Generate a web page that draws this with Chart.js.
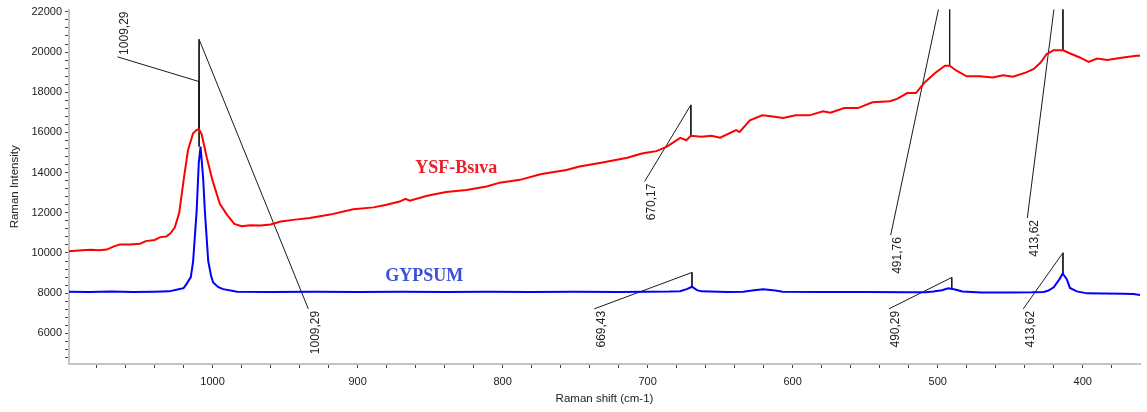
<!DOCTYPE html>
<html>
<head>
<meta charset="utf-8">
<script src="https://cdn.jsdelivr.net/npm/chart.js@4.4.1/dist/chart.umd.min.js"></script>
<style>
  html, body { margin: 0; padding: 0; background: #fff; }
  #wrap { width: 1147px; height: 412px; }
</style>
</head>
<body>
<div id="wrap"><canvas id="ramanChart" width="1147" height="412"></canvas></div>
<script>
// YSF-Bsıva spectrum (Raman shift, intensity)
const ysfShift = [1099, 1090, 1084, 1078, 1073, 1068, 1064, 1057, 1050, 1046, 1040, 1036, 1032, 1029, 1026, 1023,
  1020, 1017, 1013.5, 1011, 1009.3, 1007.5, 1004, 1000, 995, 990, 985, 980, 974, 967, 960, 953, 943, 933, 919,
  903, 889, 880, 871, 867, 864, 852, 839, 825, 811, 802, 788, 774, 770, 756, 747, 733, 714, 704, 700, 694, 687,
  677.5, 673.3, 670.2, 663, 656, 650, 639, 636.6, 629.5, 621, 615, 606.6, 598, 588.5, 579, 574, 564.5, 555, 545,
  533, 528, 521, 515, 509, 502, 495, 491.8, 487, 480, 471, 462, 455, 448, 439, 434, 429, 425, 420, 413.6, 409,
  402, 396, 390, 383, 376.5, 372, 363, 360.5];
const ysfIntensity = [10090, 10140, 10160, 10140, 10170, 10330, 10420, 10420, 10460, 10590, 10650, 10790, 10820,
  10980, 11280, 12000, 13600, 15100, 15950, 16130, 16150, 15900, 14750, 13600, 12450, 11900, 11450, 11330, 11380,
  11370, 11420, 11570, 11660, 11740, 11910, 12180, 12270, 12400, 12560, 12700, 12600, 12850, 13030, 13140, 13310,
  13500, 13640, 13920, 13970, 14130, 14300, 14480, 14740, 14950, 15000, 15070, 15280, 15730, 15610, 15830, 15780,
  15830, 15740, 16110, 16020, 16600, 16850, 16810, 16720, 16850, 16850, 17050, 16980, 17210, 17210, 17500, 17550,
  17670, 17960, 17960, 18490, 18950, 19320, 19320, 19070, 18790, 18790, 18740, 18850, 18770, 18990, 19150, 19480,
  19890, 20090, 20090, 19940, 19730, 19510, 19680, 19610, 19680, 19730, 19810, 19810];

// GYPSUM spectrum
const gypShift = [1099, 1085, 1070, 1055, 1040, 1030, 1025, 1020, 1018, 1015, 1013.4, 1011, 1009.5, 1008.3, 1006.5,
  1005.3, 1003, 1001, 999.6, 996, 992.7, 983, 960, 930, 900, 870, 840, 810, 780, 750, 720, 700, 685, 677.7, 673,
  669.4, 666, 663, 645, 634, 628, 620.3, 612, 607, 580, 550, 520, 508, 503, 497, 492.7, 488, 483, 470, 450, 435,
  427, 424, 420, 416, 413.8, 411, 408.8, 404, 397, 385, 372, 365, 360.5];
const gypIntensity = [8070, 8060, 8080, 8060, 8070, 8090, 8170, 8250, 8450, 8800, 9600, 12070, 14500, 15300, 13720,
  12070, 9600, 8850, 8530, 8300, 8200, 8070, 8060, 8070, 8060, 8075, 8060, 8070, 8060, 8065, 8060, 8070, 8080,
  8100, 8200, 8320, 8150, 8090, 8060, 8070, 8130, 8190, 8130, 8070, 8060, 8060, 8050, 8050, 8080, 8150, 8240,
  8180, 8080, 8030, 8030, 8040, 8060, 8120, 8290, 8700, 8980, 8700, 8260, 8090, 7990, 7980, 7970, 7960, 7910];

// peak annotations: peak position, peak height, top of stem, end of leader line
const ysfPeaks = [1009.29, 670.17, 491.76, 413.62];
const ysfPeakY = [16150, 15830, 19320, 20090];
const ysfStemTop = [18530, 17370, 24760, 25640];
const ysfLeadX = [1065.5, 702.1, 532.4, 438.2];
const ysfLeadY = [19760, 13555, 10890, 11740];
const ysfPeakText = ['1009,29', '670,17', '491,76', '413,62'];
const ysfTextUp = [true, false, false, false];

const gypPeaks = [1009.29, 669.43, 490.29, 413.62];
const gypPeakY = [15300, 8320, 8240, 8980];
const gypStemTop = [20630, 9030, 8780, 10010];
const gypLeadX = [934, 736.8, 533.6, 441];
const gypLeadY = [7220, 7220, 7220, 7220];
const gypPeakText = ['1009,29', '669,43', '490,29', '413,62'];
const gypTextUp = [false, false, false, false];

// series name labels
const seriesNames = ['YSF-Bsıva', 'GYPSUM'];
const seriesNameX = [832, 854];
const seriesNameY = [14200, 8840];
const seriesNameColor = ['#e8202a', '#3c4fd8'];

// axis
const xMajor = [1000, 900, 800, 700, 600, 500, 400];
const yMajor = [6000, 8000, 10000, 12000, 14000, 16000, 18000, 20000, 22000];
const yMinorPerMajor = 5; // minor tick every 400

const toPoints = (xs, ys) => xs.map((x, i) => ({ x: x, y: ys[i] }));

function annotationSets(peaks, peakY, stemTop, leadX, leadY) {
    return peaks.map((p, i) => ({
        data: [
            { x: leadX[i], y: leadY[i] },
            { x: p, y: stemTop[i] },
            { x: p, y: peakY[i] }
        ],
        borderColor: '#1a1a1a',
        borderWidth: 1,
        pointRadius: 0,
        tension: 0
    }));
}

const peakLabels = {
    id: 'peakLabels',
    afterDatasetsDraw(chart) {
        const ctx = chart.ctx;
        const xs = chart.scales.x, ys = chart.scales.y;
        const drawSet = (texts, leadX, leadY, up) => {
            texts.forEach((t, i) => {
                const px = xs.getPixelForValue(leadX[i]);
                const py = ys.getPixelForValue(leadY[i]);
                ctx.save();
                ctx.translate(px + 7, up[i] ? py - 2 : py + 2);
                ctx.rotate(-Math.PI / 2);
                ctx.font = '12px "Liberation Sans", Arial, sans-serif';
                ctx.fillStyle = '#222';
                ctx.textBaseline = 'middle';
                ctx.textAlign = up[i] ? 'left' : 'right';
                ctx.fillText(t, 0, 0);
                ctx.restore();
            });
        };
        drawSet(ysfPeakText, ysfLeadX, ysfLeadY, ysfTextUp);
        drawSet(gypPeakText, gypLeadX, gypLeadY, gypTextUp);

        seriesNames.forEach((name, i) => {
            ctx.save();
            ctx.font = 'bold 18px "Liberation Serif", "Times New Roman", serif';
            ctx.fillStyle = seriesNameColor[i];
            ctx.textAlign = 'center';
            ctx.textBaseline = 'middle';
            ctx.fillText(name, xs.getPixelForValue(seriesNameX[i]), ys.getPixelForValue(seriesNameY[i]));
            ctx.restore();
        });
    }
};

const ctx = document.getElementById('ramanChart').getContext('2d');
new Chart(ctx, {
    type: 'line',
    data: {
        datasets: [
            {
                label: 'YSF-Bsıva',
                data: toPoints(ysfShift, ysfIntensity),
                borderColor: '#ff0000',
                borderWidth: 2,
                pointRadius: 0,
                tension: 0
            },
            {
                label: 'GYPSUM',
                data: toPoints(gypShift, gypIntensity),
                borderColor: '#0000ff',
                borderWidth: 2,
                pointRadius: 0,
                tension: 0
            },
            ...annotationSets(ysfPeaks, ysfPeakY, ysfStemTop, ysfLeadX, ysfLeadY),
            ...annotationSets(gypPeaks, gypPeakY, gypStemTop, gypLeadX, gypLeadY)
        ]
    },
    options: {
        responsive: false,
        animation: false,
        layout: { padding: { top: 6, right: 7, left: 0, bottom: 0 } },
        scales: {
            x: {
                type: 'linear',
                reverse: true,
                min: 360.5,
                max: 1099,
                afterFit: (scale) => { scale.height = 48; },
                border: { color: '#c4c4c4', width: 2 },
                grid: { drawOnChartArea: false, drawTicks: true, tickLength: 4, tickColor: '#444' },
                ticks: {
                    stepSize: 20,
                    includeBounds: false,
                    autoSkip: false,
                    maxRotation: 0,
                    padding: 7,
                    color: '#222',
                    font: { family: '"Liberation Sans", Arial, sans-serif', size: 11 },
                    callback: (v) => xMajor.includes(v) ? String(v) : ''
                },
                title: {
                    display: true,
                    text: 'Raman shift (cm-1)',
                    color: '#222',
                    font: { family: '"Liberation Sans", Arial, sans-serif', size: 11.5 },
                    padding: { top: 0, bottom: 6 }
                }
            },
            y: {
                type: 'linear',
                min: 4475,
                max: 22113,
                afterFit: (scale) => { scale.width = 69; },
                // major ticks with four minor ticks between each pair
                afterBuildTicks: (scale) => {
                    const step = (yMajor[1] - yMajor[0]) / yMinorPerMajor;
                    const vals = [];
                    yMajor.forEach((m) => {
                        for (let k = -yMinorPerMajor + 1; k <= 0; k++) vals.push(m + k * step);
                    });
                    scale.ticks = vals.filter(v => v >= scale.min && v <= scale.max).map(v => ({ value: v }));
                },
                border: { color: '#c4c4c4', width: 2 },
                grid: { drawOnChartArea: false, drawTicks: true, tickLength: 4, tickColor: '#444' },
                ticks: {
                    autoSkip: false,
                    padding: 3,
                    color: '#222',
                    font: { family: '"Liberation Sans", Arial, sans-serif', size: 11 },
                    callback: (v) => yMajor.includes(v) ? String(v) : ''
                },
                title: {
                    display: true,
                    text: 'Raman Intensity',
                    color: '#222',
                    font: { family: '"Liberation Sans", Arial, sans-serif', size: 11.5 },
                    padding: { top: 8, bottom: 0 }
                }
            }
        },
        plugins: {
            legend: { display: false },
            tooltip: { enabled: false }
        }
    },
    plugins: [peakLabels]
});
</script>
</body>
</html>
